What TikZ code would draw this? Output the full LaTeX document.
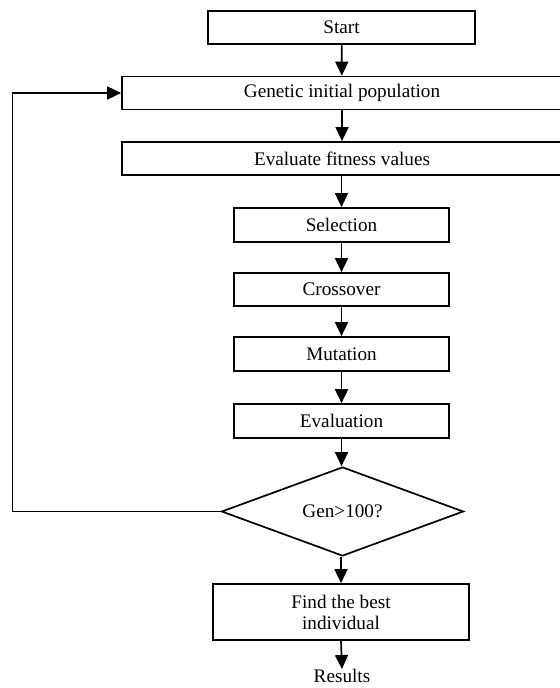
\documentclass[tikz,border=0pt]{standalone}
\usepackage{fontspec}
\setmainfont{Liberation Serif}
\usetikzlibrary{shapes.geometric,arrows.meta}
\begin{document}
\begin{tikzpicture}[x=1bp,y=-1bp,
  every node/.style={font=\fontsize{19.2bp}{21bp}\selectfont, inner sep=0pt},
  box/.style={draw, line width=1.7bp, rectangle, align=center},
  dec/.style={draw, line width=1.7bp, diamond, aspect=2.7, minimum width=242bp, minimum height=89bp},
  arr/.style={line width=1.7bp, -{Triangle[length=14bp,width=13bp]}}
]
\useasboundingbox (0,0) rectangle (560,688);
\node[box, minimum width=267bp, minimum height=33bp] (start) at (341.5,27.5) {Start};
\node[box, minimum width=440bp, minimum height=33bp] (gen) at (342,93) {Genetic initial population};
\node[box, minimum width=440bp, minimum height=33bp] (eval) at (342,158.5) {Evaluate fitness values};
\node[box, minimum width=215bp, minimum height=34bp] (sel) at (341.5,225) {Selection};
\node[box, minimum width=215bp, minimum height=33bp] (cross) at (341.5,289.5) {Crossover};
\node[box, minimum width=215bp, minimum height=34bp] (mut) at (341.5,354) {Mutation};
\node[box, minimum width=215bp, minimum height=34bp] (evl) at (341.5,421) {Evaluation};
\node[dec] (gen100) at (342.5,511.5) {Gen>100?};
\node[box, minimum width=256bp, minimum height=56bp] (best) at (341,612) {Find the best\\individual};
\node (res) at (342,676) {Results};
\coordinate (loop) at (12.5,511.5);
\draw[arr] (start) -- (gen);
\draw[arr] (gen) -- (eval);
\draw[arr] (eval.south -| sel.north) -- (sel);
\draw[arr] (sel) -- (cross);
\draw[arr] (cross) -- (mut);
\draw[arr] (mut) -- (evl);
\draw[arr] (evl.south) -- (evl.south |- gen100.north);
\draw[arr] (gen100.south -| best.north) -- (best);
\draw[arr] (best.south) -- (res.north);
\draw[arr] (gen100.west) -- (loop) |- (gen.west);
\end{tikzpicture}
\end{document}
